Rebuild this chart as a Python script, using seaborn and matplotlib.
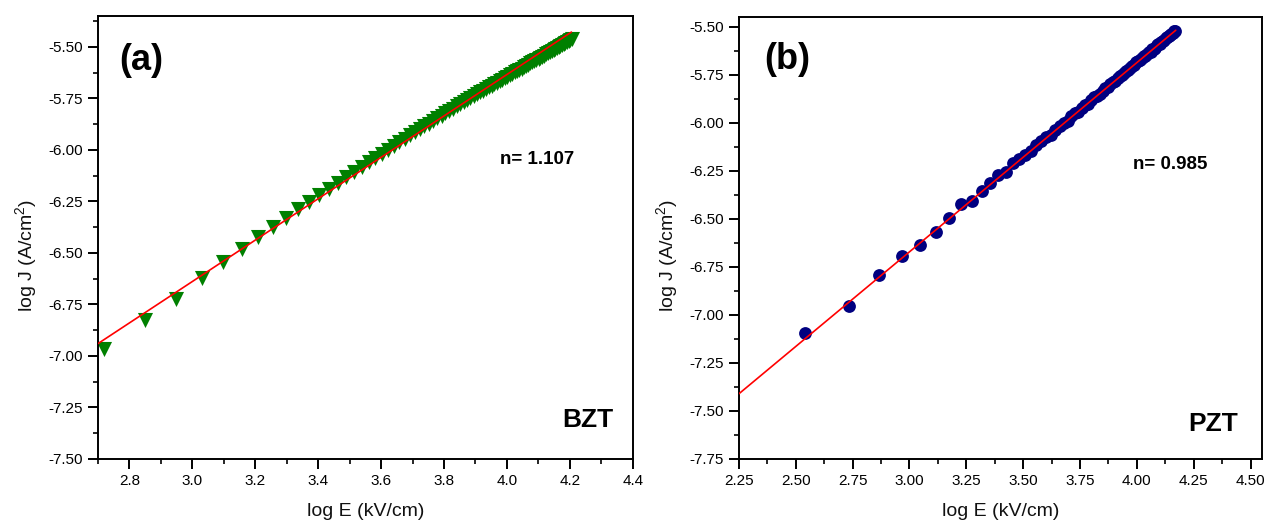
import matplotlib
matplotlib.use("Agg")
import matplotlib.pyplot as plt
import seaborn as sns
import pandas as pd
from matplotlib.ticker import MultipleLocator, FormatStrFormatter

# ---------------- data ----------------
# (a) BZT : log E (kV/cm) vs log J (A/cm^2)
bzt_logE = [2.7177, 2.8482, 2.9484, 3.0298, 3.0983, 3.1575, 3.2095, 3.2560, 3.2980, 3.3363,
            3.3715, 3.4040, 3.4343, 3.4626, 3.4891, 3.5142, 3.5378, 3.5603, 3.5816, 3.6020,
            3.6214, 3.6400, 3.6578, 3.6750, 3.6914, 3.7073, 3.7226, 3.7374, 3.7517, 3.7656,
            3.7790, 3.7921, 3.8047, 3.8170, 3.8289, 3.8405, 3.8519, 3.8629, 3.8737, 3.8842,
            3.8944, 3.9045, 3.9142, 3.9238, 3.9332, 3.9424, 3.9513, 3.9601, 3.9688, 3.9772,
            3.9855, 3.9937, 4.0016, 4.0095, 4.0172, 4.0248, 4.0322, 4.0395, 4.0467, 4.0538,
            4.0608, 4.0676, 4.0744, 4.0810, 4.0876, 4.0940, 4.1004, 4.1066, 4.1128, 4.1189,
            4.1249, 4.1308, 4.1367, 4.1424, 4.1481, 4.1537, 4.1593, 4.1647, 4.1701, 4.1755,
            4.1807, 4.1859, 4.1911, 4.1962, 4.2012, 4.2062]
bzt_logJ = [-6.968, -6.824, -6.723, -6.624, -6.543, -6.479, -6.424, -6.376, -6.330, -6.288,
            -6.251, -6.218, -6.188, -6.159, -6.133, -6.107, -6.084, -6.061, -6.040, -6.019,
            -6.000, -5.981, -5.963, -5.946, -5.929, -5.913, -5.899, -5.885, -5.872, -5.859,
            -5.846, -5.833, -5.821, -5.810, -5.799, -5.788, -5.778, -5.768, -5.758, -5.748,
            -5.739, -5.730, -5.721, -5.713, -5.704, -5.696, -5.689, -5.681, -5.673, -5.666,
            -5.659, -5.651, -5.644, -5.638, -5.631, -5.624, -5.618, -5.611, -5.605, -5.598,
            -5.592, -5.586, -5.580, -5.575, -5.569, -5.564, -5.557, -5.552, -5.547, -5.542,
            -5.536, -5.531, -5.526, -5.520, -5.515, -5.510, -5.505, -5.501, -5.495, -5.491,
            -5.485, -5.481, -5.476, -5.472, -5.467, -5.462]
bzt_fit_x = [2.70, 4.205]
bzt_fit_y = [-6.940, -5.428]
bzt_n = "n= 1.107"

# (b) PZT
pzt_logE = [2.5416, 2.7324, 2.8645, 2.9657, 3.0477, 3.1166, 3.1761, 3.2284, 3.2751, 3.3172,
            3.3556, 3.3909, 3.4236, 3.4539, 3.4823, 3.5089, 3.5340, 3.5577, 3.5802, 3.6016,
            3.6220, 3.6415, 3.6601, 3.6780, 3.6952, 3.7116, 3.7275, 3.7429, 3.7577, 3.7720,
            3.7859, 3.7993, 3.8124, 3.8250, 3.8373, 3.8493, 3.8609, 3.8723, 3.8833, 3.8941,
            3.9046, 3.9149, 3.9249, 3.9347, 3.9443, 3.9537, 3.9628, 3.9718, 3.9806, 3.9893,
            3.9977, 4.0060, 4.0142, 4.0222, 4.0300, 4.0378, 4.0453, 4.0528, 4.0601, 4.0673,
            4.0744, 4.0813, 4.0882, 4.0950, 4.1016, 4.1082, 4.1146, 4.1210, 4.1272, 4.1334,
            4.1395, 4.1455, 4.1514, 4.1573, 4.1630, 4.1687]
pzt_logJ = [-7.094, -6.956, -6.793, -6.694, -6.637, -6.568, -6.495, -6.425, -6.408, -6.353,
            -6.314, -6.271, -6.259, -6.210, -6.191, -6.167, -6.148, -6.118, -6.093, -6.077,
            -6.062, -6.036, -6.016, -6.004, -5.991, -5.966, -5.952, -5.942, -5.922, -5.910,
            -5.901, -5.882, -5.868, -5.859, -5.850, -5.833, -5.820, -5.815, -5.800, -5.788,
            -5.783, -5.770, -5.758, -5.754, -5.740, -5.730, -5.726, -5.713, -5.704, -5.700,
            -5.686, -5.681, -5.676, -5.663, -5.654, -5.652, -5.640, -5.633, -5.630, -5.619,
            -5.614, -5.609, -5.598, -5.592, -5.589, -5.578, -5.574, -5.570, -5.560, -5.556,
            -5.551, -5.543, -5.538, -5.533, -5.525, -5.521]
pzt_fit_x = [2.25, 4.171]
pzt_fit_y = [-7.411, -5.519]
pzt_n = "n= 0.985"

xlabel = "log E (kV/cm)"
ylabel = r"log J (A/cm$^{2}$)"

# ---------------- style ----------------
sns.set_theme(style="white")
plt.rcParams["font.family"] = ["Liberation Sans", "DejaVu Sans"]
plt.rcParams["mathtext.fontset"] = "custom"
plt.rcParams["mathtext.rm"] = "Liberation Sans"
plt.rcParams["mathtext.it"] = "Liberation Sans:italic"
plt.rcParams["mathtext.bf"] = "Liberation Sans:bold"
plt.rcParams["axes.unicode_minus"] = False
plt.rcParams["text.color"] = "#000000"
plt.rcParams["axes.labelcolor"] = "#000000"

fig = plt.figure(figsize=(12.66, 5.23), dpi=100)
axA = fig.add_axes([0.0774, 0.1224, 0.4224, 0.8470])
axB = fig.add_axes([0.5836, 0.1224, 0.4132, 0.8451])

dfA = pd.DataFrame({"x": bzt_logE, "y": bzt_logJ})
dfB = pd.DataFrame({"x": pzt_logE, "y": pzt_logJ})

sns.scatterplot(data=dfA, x="x", y="y", ax=axA, marker="v", s=118,
                color="#008000", edgecolor="#008000", linewidth=0, zorder=2)
sns.lineplot(x=bzt_fit_x, y=bzt_fit_y, ax=axA, color="#ff0000", linewidth=1.2, zorder=3)

sns.scatterplot(data=dfB, x="x", y="y", ax=axB, marker="o", s=85,
                color="#000080", edgecolor="#000080", linewidth=0, zorder=2)
sns.lineplot(x=pzt_fit_x, y=pzt_fit_y, ax=axB, color="#ff0000", linewidth=1.2, zorder=3)

def style_axes(ax, xlim, ylim, xmaj, xfmt, ymaj):
    ax.set_xlim(*xlim)
    ax.set_ylim(*ylim)
    ax.xaxis.set_major_locator(MultipleLocator(xmaj))
    ax.xaxis.set_minor_locator(MultipleLocator(xmaj / 2))
    ax.yaxis.set_major_locator(MultipleLocator(ymaj))
    ax.yaxis.set_minor_locator(MultipleLocator(ymaj / 2))
    ax.xaxis.set_major_formatter(FormatStrFormatter(xfmt))
    ax.yaxis.set_major_formatter(FormatStrFormatter("%.2f"))
    for sp in ax.spines.values():
        sp.set_visible(True)
        sp.set_color("#000000")
        sp.set_linewidth(1.4)
    ax.tick_params(which="major", direction="out", length=7, width=1.4,
                   labelsize=11, colors="#000000", pad=4,
                   bottom=True, left=True, top=False, right=False)
    ax.tick_params(which="minor", direction="out", length=3.6, width=1.4,
                   bottom=True, left=True, top=False, right=False)
    ax.set_xlabel(xlabel, fontsize=14, color="#111111")
    ax.set_ylabel(ylabel, fontsize=14, color="#111111")
    ax.set_facecolor("white")

style_axes(axA, (2.7, 4.4), (-7.5, -5.35), 0.2, "%.1f", 0.25)
style_axes(axB, (2.25, 4.55), (-7.75, -5.45), 0.25, "%.2f", 0.25)

axA.xaxis.set_label_coords(0.5, -0.100)
axB.xaxis.set_label_coords(0.5, -0.100)
axA.yaxis.set_label_coords(-0.110, 0.46)
axB.yaxis.set_label_coords(-0.112, 0.46)

# annotations
axA.text(2.838, -5.565, "(a)", fontsize=26, fontweight="bold", ha="center", va="center", color="#000000")
axA.text(4.095, -6.048, bzt_n, fontsize=13.5, fontweight="bold", ha="center", va="center", color="#000000")
axA.text(4.258, -7.311, "BZT", fontsize=19, fontweight="bold", ha="center", va="center", color="#000000")

axB.text(2.463, -5.670, "(b)", fontsize=26, fontweight="bold", ha="center", va="center", color="#000000")
axB.text(4.147, -6.220, pzt_n, fontsize=13.5, fontweight="bold", ha="center", va="center", color="#000000")
axB.text(4.337, -7.568, "PZT", fontsize=19, fontweight="bold", ha="center", va="center", color="#000000")

fig.savefig("out.png", dpi=100, facecolor="white")
